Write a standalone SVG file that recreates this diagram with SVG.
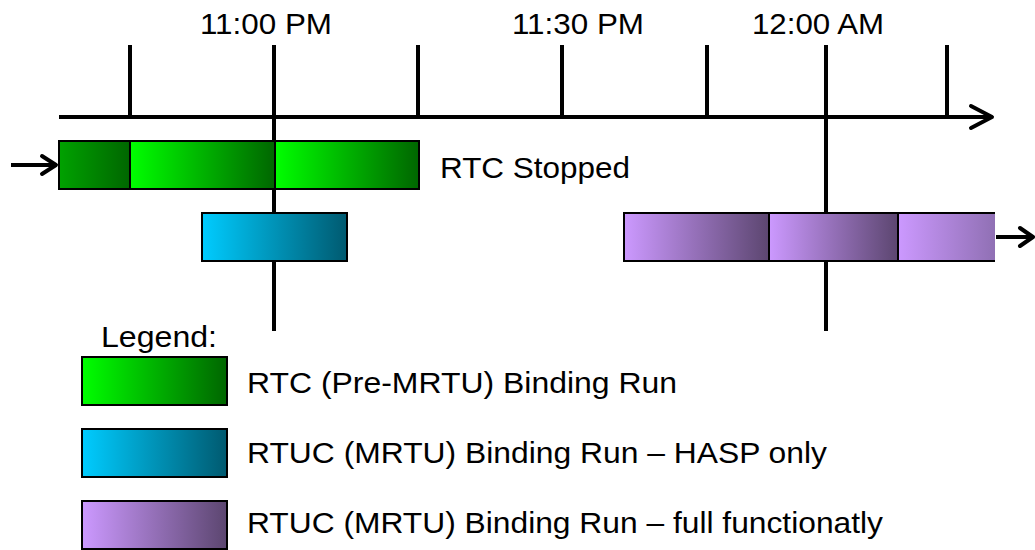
<svg xmlns="http://www.w3.org/2000/svg" width="1035" height="550" viewBox="0 0 1035 550">
<defs>
<linearGradient id="gGreen" x1="0" y1="0" x2="1" y2="0"><stop offset="0" stop-color="#00FF00"/><stop offset="1" stop-color="#006600"/></linearGradient>
<linearGradient id="gGreenTail" x1="0" y1="0" x2="1" y2="0"><stop offset="0" stop-color="#00A200"/><stop offset="1" stop-color="#006600"/></linearGradient>
<linearGradient id="gBlue" x1="0" y1="0" x2="1" y2="0"><stop offset="0" stop-color="#00CCFF"/><stop offset="1" stop-color="#005A70"/></linearGradient>
<linearGradient id="gPurple" x1="0" y1="0" x2="1" y2="0"><stop offset="0" stop-color="#CC99FF"/><stop offset="1" stop-color="#5C4670"/></linearGradient>
<linearGradient id="gPurpleHead" x1="0" y1="0" x2="1" y2="0"><stop offset="0" stop-color="#CC99FF"/><stop offset="1" stop-color="#9070B4"/></linearGradient>
<style>
.t{font-family:"Liberation Sans",Arial,sans-serif;font-size:29px;fill:#000}
.ln{stroke:#000;stroke-width:4;fill:none}
.bx{stroke:#000;stroke-width:2}
.ah{stroke:#000;stroke-width:4;fill:none;stroke-linecap:round;stroke-linejoin:round}
</style>
</defs>
<g id="connectors">
<line class="ln" x1="59" y1="117" x2="991" y2="117"/>
<polyline class="ah" points="971,106 992,117 971,128"/>
<line class="ln" x1="130" y1="45" x2="130" y2="117"/>
<line class="ln" x1="274" y1="45" x2="274" y2="331"/>
<line class="ln" x1="418" y1="45" x2="418" y2="117"/>
<line class="ln" x1="562" y1="45" x2="562" y2="117"/>
<line class="ln" x1="707" y1="45" x2="707" y2="117"/>
<line class="ln" x1="826" y1="45" x2="826" y2="331"/>
<line class="ln" x1="947" y1="45" x2="947" y2="117"/>
<line class="ln" x1="11" y1="165" x2="55" y2="165"/>
<polyline class="ah" points="42,156 56,165 42,174"/>
<line class="ln" x1="996" y1="237" x2="1031" y2="237"/>
<polyline class="ah" points="1020,228 1033,237 1020,246"/>
</g>
<g id="labels">
<text class="t" x="266" y="34" text-anchor="middle" textLength="132" lengthAdjust="spacingAndGlyphs">11:00 PM</text>
<text class="t" x="578" y="34" text-anchor="middle" textLength="132" lengthAdjust="spacingAndGlyphs">11:30 PM</text>
<text class="t" x="818" y="34" text-anchor="middle" textLength="132" lengthAdjust="spacingAndGlyphs">12:00 AM</text>
</g>
<g id="rtc-run">
<rect class="bx" x="59" y="141" width="71" height="48" fill="url(#gGreenTail)"/>
<rect class="bx" x="130" y="141" width="145" height="48" fill="url(#gGreen)"/>
<rect class="bx" x="275" y="141" width="144" height="48" fill="url(#gGreen)"/>
<text class="t" x="440" y="178" textLength="190" lengthAdjust="spacingAndGlyphs">RTC Stopped</text>
</g>
<g id="hasp-run">
<rect class="bx" x="202" y="213" width="145" height="48" fill="url(#gBlue)"/>
</g>
<g id="full-run">
<rect class="bx" x="624" y="213" width="145" height="48" fill="url(#gPurple)"/>
<rect class="bx" x="769" y="213" width="129" height="48" fill="url(#gPurple)"/>
<rect x="898" y="213" width="97" height="48" fill="url(#gPurpleHead)"/>
<polyline points="995,213 898,213 898,261 995,261" fill="none" stroke="#000" stroke-width="2"/>
</g>
<g id="legend">
<text class="t" x="101" y="347" textLength="116" lengthAdjust="spacingAndGlyphs">Legend:</text>
<rect class="bx" x="82" y="357" width="145" height="48" fill="url(#gGreen)"/>
<text class="t" x="247" y="393" textLength="430" lengthAdjust="spacingAndGlyphs">RTC (Pre-MRTU) Binding Run</text>
<rect class="bx" x="82" y="429" width="145" height="48" fill="url(#gBlue)"/>
<text class="t" x="247" y="463" textLength="580" lengthAdjust="spacingAndGlyphs">RTUC (MRTU) Binding Run – HASP only</text>
<rect class="bx" x="82" y="501" width="145" height="48" fill="url(#gPurple)"/>
<text class="t" x="247" y="533" textLength="636" lengthAdjust="spacingAndGlyphs">RTUC (MRTU) Binding Run – full functionatly</text>
</g>
</svg>
